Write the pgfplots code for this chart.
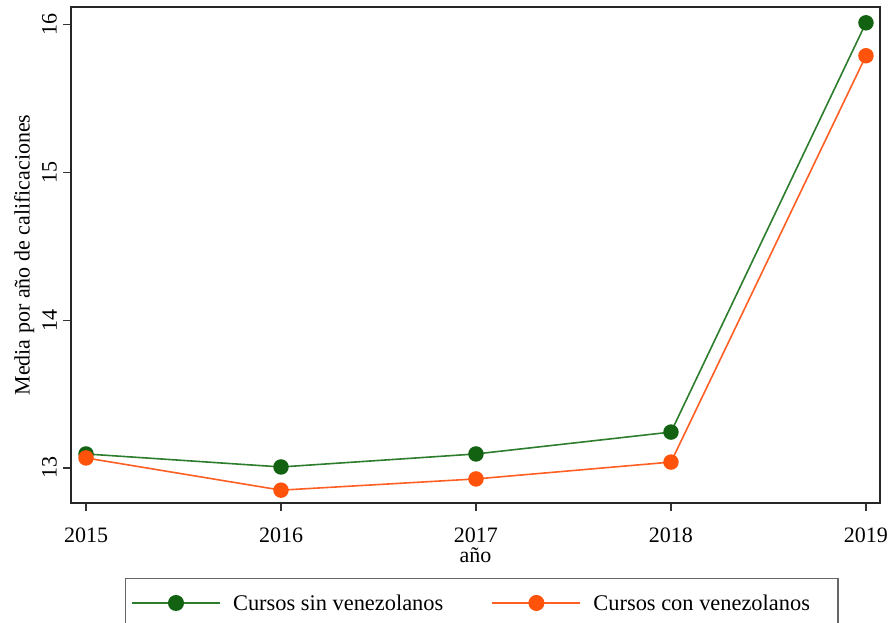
\documentclass[border=0pt]{standalone}
\usepackage{fontspec}
\setmainfont{Liberation Serif}
\usepackage{pgfplots}
\pgfplotsset{compat=1.18}
\definecolor{gline}{RGB}{45,125,45}
\definecolor{gmark}{RGB}{18,98,18}
\definecolor{oline}{RGB}{255,95,35}
\definecolor{omark}{RGB}{255,82,10}
\begin{document}
\begin{tikzpicture}[font=\fontsize{16.5}{19.8}\selectfont]
\begin{axis}[
  at={(0,0)}, anchor=south west,
  width=606.75pt, height=372pt, scale only axis,
  xmin=2014.923, xmax=2019.072, ymin=12.763, ymax=16.12,
  xtick={2015,2016,2017,2018,2019}, ytick={13,14,15,16},
  /pgf/number format/assume math mode=true,
  /pgf/number format/1000 sep={},
  tick pos=left, tick align=outside, major tick length=6pt,
  tick style={line width=0.9pt, black!80},
  axis line style={line width=1.1pt, black!85},
  yticklabel style={rotate=90, anchor=south, yshift=1pt},
  xticklabel style={yshift=-9pt},
  xlabel={año}, ylabel={Media por año de calificaciones},
  xlabel style={yshift=3pt},
  ylabel style={yshift=-1pt},
  legend columns=2,
  legend style={at={(54/809,-75/496)}, anchor=north west, draw=black!60, line width=0.9pt,
    inner xsep=4pt, inner ysep=10pt, font=\fontsize{16.8}{20}\selectfont,
    /tikz/every even column/.append style={column sep=34pt},
    /tikz/every odd column/.append style={column sep=7pt},
    nodes={anchor=west}},
  legend image code/.code={\draw[line width=1.6pt, mark repeat=2,mark phase=2] plot coordinates {(0pt,0.3pt)(33pt,0.3pt)(66pt,0.3pt)};},
]
\addplot[gline, line width=1.2pt, mark=*, mark size=5.2pt, mark options={fill=gmark, draw=gmark}]
  coordinates {(2015,13.095) (2016,13.007) (2017,13.095) (2018,13.243) (2019,16.013)};
\addlegendentry{Cursos sin venezolanos}
\addplot[oline, line width=1.2pt, mark=*, mark size=5.2pt, mark options={fill=omark, draw=omark}]
  coordinates {(2015,13.068) (2016,12.850) (2017,12.926) (2018,13.040) (2019,15.790)};
\addlegendentry{Cursos con venezolanos\rule{15pt}{0pt}}
\end{axis}
\pgfresetboundingbox
\useasboundingbox (-53.25pt,-89.25pt) rectangle (615pt,377.25pt);
\end{tikzpicture}
\end{document}
